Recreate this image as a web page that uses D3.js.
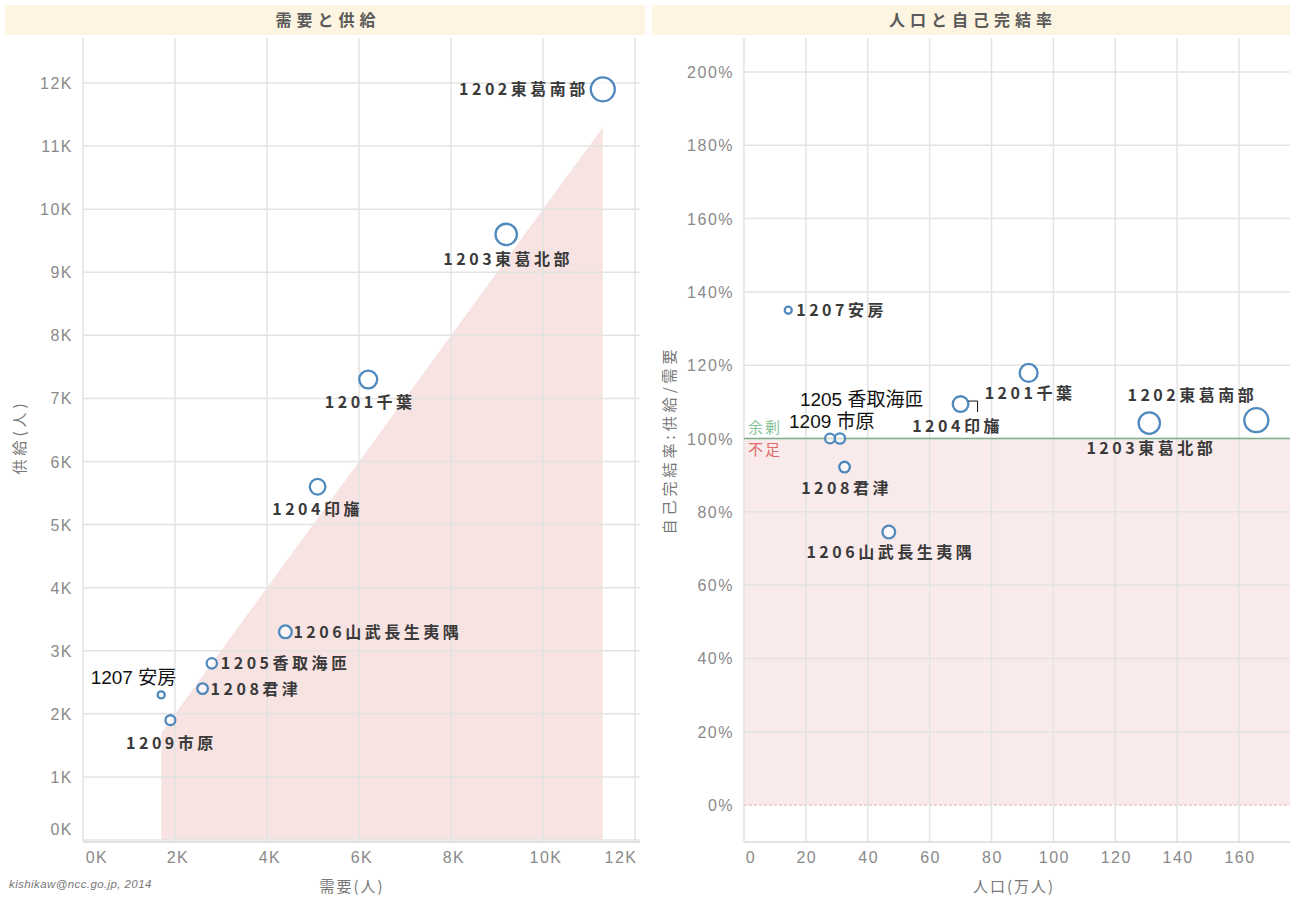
<!DOCTYPE html>
<html><head><meta charset="utf-8">
<script src="https://cdn.jsdelivr.net/npm/d3@7"></script>
<style>
body{margin:0;background:#fff;}
svg{display:block;}
</style></head>
<body>
<svg id="c" width="1293" height="902"></svg>
<script>
// ---- data ----
const codes = ["1201","1202","1203","1204","1205","1206","1207","1208","1209"];
const names = ["千葉","東葛南部","東葛北部","印旛","香取海匝","山武長生夷隅","安房","君津","市原"];
const demand = [6200, 11300, 9200, 5100, 2800, 4400, 1700, 2600, 1900];      // 需要(人)
const supply = [7300, 11900, 9600, 5600, 2800, 3300, 2300, 2400, 1900];      // 供給(人)
const population = [92, 165.6, 131, 70, 31, 46.8, 14.3, 32.5, 27.8];          // 人口(万人)
const selfRate = [117.9, 105, 104.2, 109.4, 100, 74.5, 135, 92.2, 100];      // 自己完結率(%)
const leftXTicks = [0, 2000, 4000, 6000, 8000, 10000, 12000];
const leftYTicks = [0,1000,2000,3000,4000,5000,6000,7000,8000,9000,10000,11000,12000];
const rightXTicks = [0,20,40,60,80,100,120,140,160];
const rightYTicks = [0,20,40,60,80,100,120,140,160,180,200];

const data = codes.map((c,i)=>({code:c,name:names[i],demand:demand[i],supply:supply[i],pop:population[i],rate:selfRate[i]}));

const svg = d3.select("#c");
const numFont = "'Liberation Sans', Arial, sans-serif";
const jpFont = "'Noto Sans CJK JP', sans-serif";
const tickColor = "#8a8a8a";
const gridColor = "#e3e3e3";
const circleColor = "#5089bd";

const rScale = d3.scaleSqrt().domain([0, d3.max(population)]).range([0, 12]);

function tickText(sel){
  sel.attr("font-family",numFont).attr("font-size",16).attr("letter-spacing","1.5px").attr("fill",tickColor);
}
function labText(sel){
  sel.attr("font-family",jpFont).attr("font-weight","bold").attr("font-size",16)
     .attr("letter-spacing","3.5px").attr("fill","#3a3a3a");
}
function annText(sel){
  sel.attr("font-family",numFont+", "+jpFont).attr("font-size",19).attr("fill","#111");
}

// ===== LEFT PANEL =====
const L = {x0:83, x1:640, y0:38, y1:842};
const lx = d3.scaleLinear().domain([0,12000]).range([83,635]);
const ly = d3.scaleLinear().domain([0,12000]).range([840,83]);

svg.append("rect").attr("x",5).attr("y",5).attr("width",640).attr("height",30).attr("fill","#fdf5e1");
svg.append("text").attr("x",328).attr("y",26).attr("text-anchor","middle")
  .attr("font-family",jpFont).attr("font-weight","bold").attr("font-size",16).attr("letter-spacing","5px")
  .attr("fill","#5a5a5a").text("需要と供給");

const gL = svg.append("g");
const sortedD = data.slice().sort((a,b)=>a.demand-b.demand);
const area = d3.area().x(d=>lx(d.demand)).y0(ly(0)).y1(d=>ly(d.demand));
gL.append("path").datum(sortedD).attr("d",area).attr("fill","#f6dcdc").attr("opacity",0.8);

gL.selectAll(".hg").data(leftYTicks).join("line")
  .attr("x1",L.x0).attr("x2",L.x1).attr("y1",d=>ly(d)).attr("y2",d=>ly(d))
  .attr("stroke",gridColor).attr("stroke-width",1.5);
gL.selectAll(".vg").data(leftXTicks).join("line")
  .attr("x1",d=>lx(d)).attr("x2",d=>lx(d)).attr("y1",L.y0).attr("y2",L.y1)
  .attr("stroke",gridColor).attr("stroke-width",1.5);
gL.append("line").attr("x1",L.x0).attr("x2",L.x1).attr("y1",L.y1).attr("y2",L.y1).attr("stroke","#d8d8d8").attr("stroke-width",1.5);

const fmtK = d=> (d/1000)+"K";
gL.selectAll(".yt").data(leftYTicks).join("text")
  .attr("x",73).attr("y",d=> d===0 ? ly(d)-5 : ly(d)+6).attr("text-anchor","end")
  .call(tickText).text(fmtK);
gL.selectAll(".xt").data(leftXTicks).join("text")
  .attr("x",d=> d===0 ? lx(d)+14 : (d===12000 ? lx(d)-14 : lx(d)+3)).attr("y",863).attr("text-anchor","middle")
  .call(tickText).text(fmtK);
svg.append("text").attr("x",352).attr("y",892).attr("text-anchor","middle")
  .attr("font-family",jpFont).attr("font-size",15).attr("letter-spacing","2px").attr("fill","#777").text("需要(人)");
svg.append("text").attr("transform","translate(25,437) rotate(-90)").attr("text-anchor","middle")
  .attr("font-family",jpFont).attr("font-size",15).attr("letter-spacing","4px").attr("fill","#777").text("供給(人)");
svg.append("text").attr("x",9).attr("y",888)
  .attr("font-family",numFont).attr("font-style","italic").attr("font-size",11.5).attr("letter-spacing","0.4px")
  .attr("fill","#777").text("kishikaw@ncc.go.jp, 2014");

gL.selectAll(".pt").data(data).join("circle")
  .attr("cx",d=>lx(d.demand)).attr("cy",d=>ly(d.supply)).attr("r",d=>rScale(d.pop))
  .attr("fill","#ffffff").attr("fill-opacity",0.6).attr("stroke",circleColor).attr("stroke-width",2.3);

const leftLab = {
  "1202":{dx:-14,dy:6,a:"end"},
  "1203":{dx:2,dy:31,a:"middle"},
  "1201":{dx:2,dy:29,a:"middle"},
  "1204":{dx:0,dy:28,a:"middle"},
  "1206":{dx:8,dy:6,a:"start"},
  "1205":{dx:9,dy:6,a:"start"},
  "1208":{dx:8,dy:6,a:"start"},
  "1209":{dx:1,dy:29,a:"middle"}
};
gL.selectAll(".lb").data(data.filter(d=>leftLab[d.code])).join("text")
  .attr("x",d=>lx(d.demand)+leftLab[d.code].dx).attr("y",d=>ly(d.supply)+leftLab[d.code].dy)
  .attr("text-anchor",d=>leftLab[d.code].a)
  .call(labText).text(d=>d.code+d.name);
const d1207 = data.find(d=>d.code==="1207");
gL.append("text").attr("x",lx(d1207.demand)+15).attr("y",ly(d1207.supply)-11).attr("text-anchor","end")
  .call(annText).text("1207 安房");

// ===== RIGHT PANEL =====
const R = {x0:744, x1:1290, y0:38, y1:842};
const rx = d3.scaleLinear().domain([0,160]).range([744,1239]);
const ry = d3.scaleLinear().domain([0,200]).range([805,72]);

svg.append("rect").attr("x",652).attr("y",5).attr("width",638).attr("height",30).attr("fill","#fdf5e1");
svg.append("text").attr("x",973).attr("y",26).attr("text-anchor","middle")
  .attr("font-family",jpFont).attr("font-weight","bold").attr("font-size",16).attr("letter-spacing","5px")
  .attr("fill","#5a5a5a").text("人口と自己完結率");

const gR = svg.append("g");
gR.append("rect").attr("x",R.x0).attr("y",ry(100)).attr("width",R.x1-R.x0).attr("height",ry(0)-ry(100))
  .attr("fill","#f8e6e6").attr("opacity",0.8);
gR.selectAll(".hg").data(rightYTicks.filter(d=>d!==0)).join("line")
  .attr("x1",R.x0).attr("x2",R.x1).attr("y1",d=>ry(d)).attr("y2",d=>ry(d))
  .attr("stroke",gridColor).attr("stroke-width",1.5);
gR.append("line").attr("x1",R.x0).attr("x2",R.x1).attr("y1",ry(0)).attr("y2",ry(0))
  .attr("stroke","#e8c9c9").attr("stroke-width",1.5).attr("stroke-dasharray","3,2");
gR.selectAll(".vg").data(rightXTicks).join("line")
  .attr("x1",d=>rx(d)).attr("x2",d=>rx(d)).attr("y1",R.y0).attr("y2",R.y1)
  .attr("stroke",gridColor).attr("stroke-width",1.5);
gR.append("line").attr("x1",R.x0).attr("x2",R.x1).attr("y1",R.y1).attr("y2",R.y1).attr("stroke","#d8d8d8").attr("stroke-width",1.5);
gR.append("line").attr("x1",R.x0).attr("x2",R.x1).attr("y1",ry(100)).attr("y2",ry(100))
  .attr("stroke","#7fb08d").attr("stroke-width",1.5);
gR.append("text").attr("x",748).attr("y",ry(100)-6).attr("font-family",jpFont).attr("font-size",15).attr("letter-spacing","2px").attr("fill","#86c497").text("余剰");
gR.append("text").attr("x",748).attr("y",ry(100)+16).attr("font-family",jpFont).attr("font-size",15).attr("letter-spacing","2px").attr("fill","#e06a6a").text("不足");

gR.selectAll(".yt").data(rightYTicks).join("text")
  .attr("x",734).attr("y",d=>ry(d)+6).attr("text-anchor","end")
  .call(tickText).text(d=>d+"%");
gR.selectAll(".xt").data(rightXTicks).join("text")
  .attr("x",d=> d===0 ? rx(d)+7 : rx(d)+1).attr("y",863).attr("text-anchor","middle")
  .call(tickText).text(d=>d);
svg.append("text").attr("x",1014).attr("y",892).attr("text-anchor","middle")
  .attr("font-family",jpFont).attr("font-size",15).attr("letter-spacing","2px").attr("fill","#777").text("人口(万人)");
svg.append("text").attr("transform","translate(675,440) rotate(-90)").attr("text-anchor","middle")
  .attr("font-family",jpFont).attr("font-size",15).attr("letter-spacing","4px").attr("fill","#777").text("自己完結率:供給/需要");

gR.selectAll(".pt").data(data).join("circle")
  .attr("cx",d=>rx(d.pop)).attr("cy",d=>ry(d.rate)).attr("r",d=>rScale(d.pop))
  .attr("fill","#ffffff").attr("fill-opacity",0.6).attr("stroke",circleColor).attr("stroke-width",2.3);

const rightLab = {
  "1207":{dx:8,dy:6,a:"start"},
  "1208":{dx:2,dy:27,a:"middle"},
  "1206":{dx:2,dy:26,a:"middle"},
  "1204":{dx:-3,dy:28,a:"middle"},
  "1201":{dx:-44,dy:26,a:"start"},
  "1203":{dx:2,dy:31,a:"middle"},
  "1202":{dx:-64,dy:-19,a:"middle"}
};
gR.selectAll(".lb").data(data.filter(d=>rightLab[d.code])).join("text")
  .attr("x",d=>rx(d.pop)+rightLab[d.code].dx).attr("y",d=>ry(d.rate)+rightLab[d.code].dy)
  .attr("text-anchor",d=>rightLab[d.code].a)
  .call(labText).text(d=>d.code+d.name);
const d1205 = data.find(d=>d.code==="1205"), d1209 = data.find(d=>d.code==="1209"), d1204 = data.find(d=>d.code==="1204");
gR.append("text").attr("x",rx(d1205.pop)-40).attr("y",ry(d1205.rate)-33)
  .call(annText).text("1205 香取海匝");
gR.append("text").attr("x",rx(d1209.pop)-41).attr("y",ry(d1209.rate)-11)
  .call(annText).text("1209 市原");
gR.append("path")
  .attr("d",`M${rx(d1204.pop)+8},${ry(d1204.rate)-3}H${rx(d1204.pop)+17}V${ry(d1204.rate)+8}`)
  .attr("fill","none").attr("stroke","#111").attr("stroke-width",1);
</script>
</body></html>
